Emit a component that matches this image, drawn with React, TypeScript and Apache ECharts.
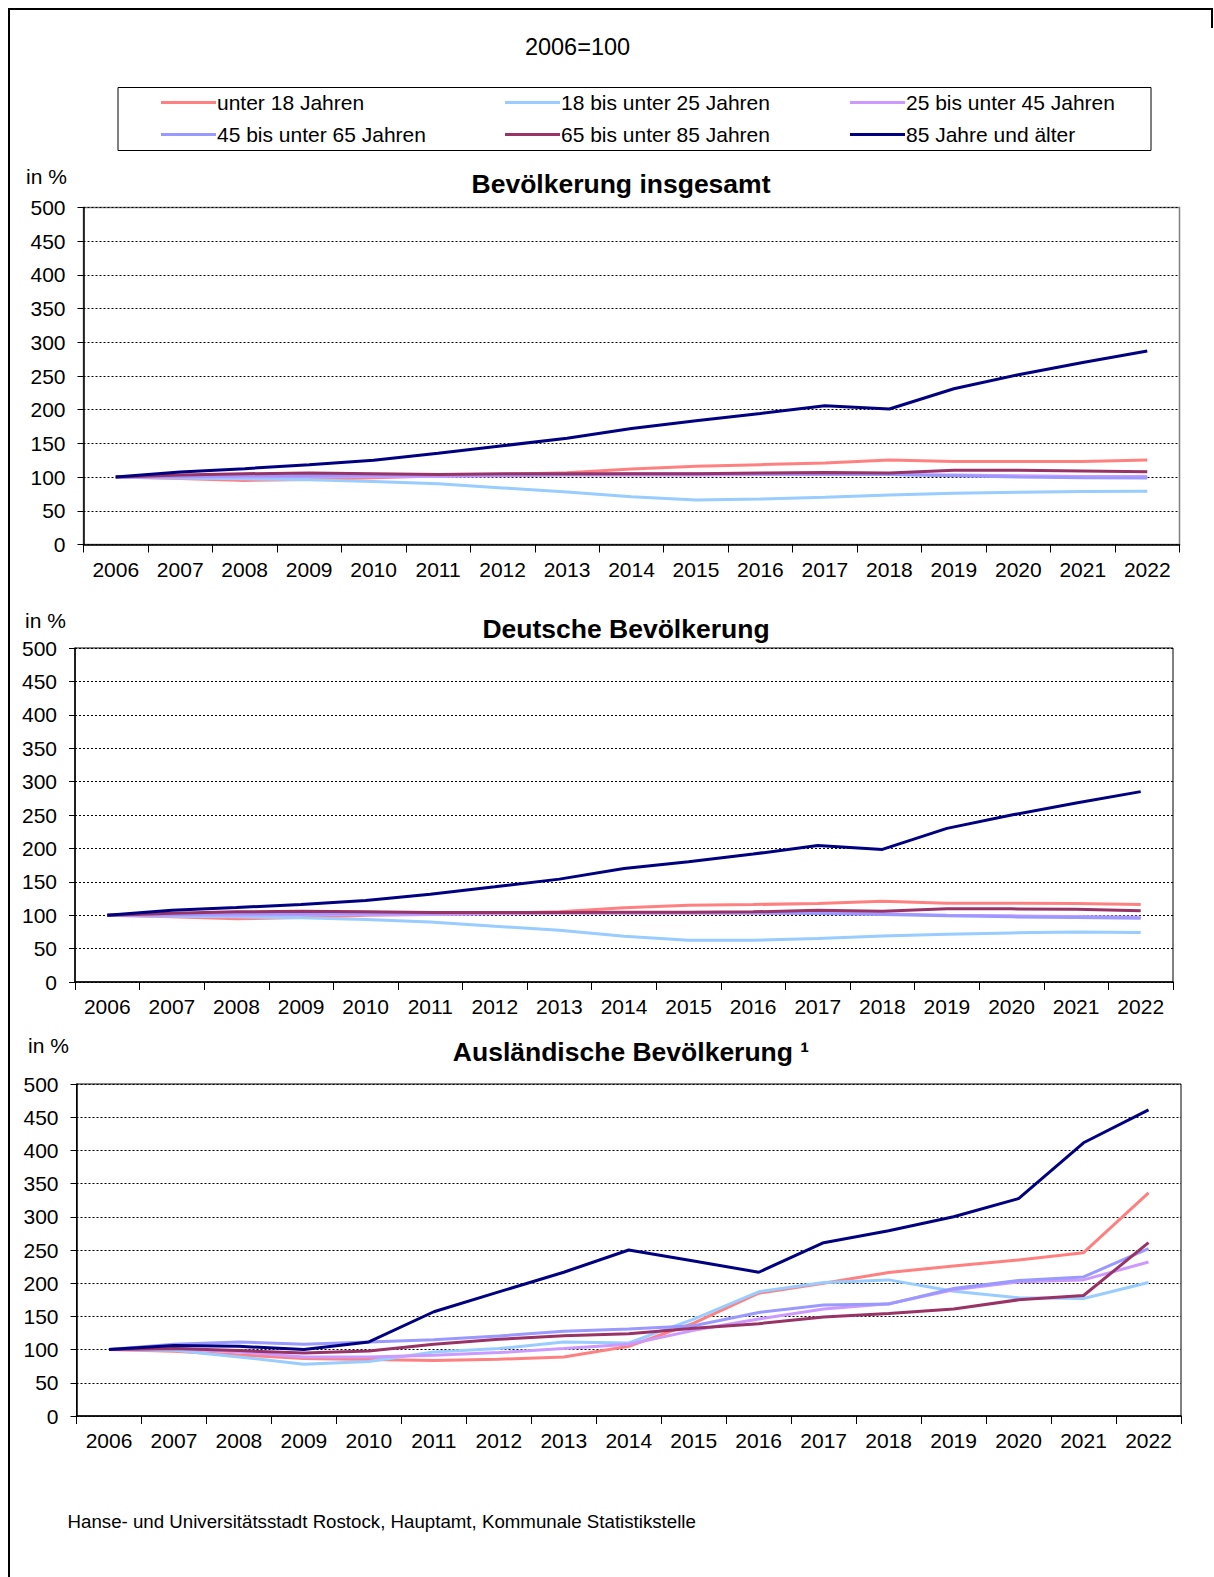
import React, { useEffect, useRef } from "react";
import * as echarts from "echarts";

const years = ["2006","2007","2008","2009","2010","2011","2012","2013","2014","2015","2016","2017","2018","2019","2020","2021","2022"];
const seriesNames = ["unter 18 Jahren","18 bis unter 25 Jahren","25 bis unter 45 Jahren","45 bis unter 65 Jahren","65 bis unter 85 Jahren","85 Jahre und älter"];
const seriesColors = ["#FF8080","#99CCFF","#CC99FF","#9999FF","#993366","#000080"];

// Bevölkerung insgesamt
const totU18 = [100, 98, 95, 96.5, 99, 101.5, 104, 106.5, 112, 116, 118.5, 121, 125.5, 123, 123, 123, 125.5];
const tot18_25 = [100, 98.5, 97.5, 96, 93.5, 90, 84, 78, 71, 66, 67.5, 70, 73.5, 76, 77.5, 78.5, 79];
const tot25_45 = [100, 100, 100, 101, 101, 101, 102, 103, 103, 103, 104, 104, 104, 103, 102, 101, 101];
const tot45_65 = [100, 101, 102, 102, 103, 103, 104, 104, 105, 105, 105, 105, 104, 102, 100, 99, 98.5];
const tot65_85 = [100, 103, 105, 106, 105, 104, 105, 105, 105, 105, 106, 107, 106, 110, 110, 109, 108];
const tot85 = [100, 107.5, 112.5, 118.5, 125, 135.5, 146.5, 157.5, 172, 183.5, 194.5, 206, 201, 231, 252, 270, 287];

// Deutsche Bevölkerung
const deU18 = [100, 97.5, 94.5, 96.5, 100, 101, 103, 105, 111, 115, 116, 117.5, 121, 118, 118, 117.5, 116];
const de18_25 = [100, 98.5, 97.5, 96, 93.5, 90, 83.5, 77.5, 68.5, 62.5, 62.5, 65, 69, 71.5, 73.5, 75, 74];
const de25_45 = [100, 100, 100, 101, 101, 101, 102, 103, 103, 103, 103, 103, 102, 100, 99, 98, 97];
const de45_65 = [100, 101, 102, 102, 103, 103, 104, 104, 104, 104, 103.5, 102.5, 101, 99, 97.5, 96.5, 95.5];
const de65_85 = [100, 103, 105, 106, 105, 104, 104, 104, 104.5, 104.5, 105, 107.5, 106, 109.5, 109.5, 109, 106.5];
const de85 = [100, 107.5, 111.5, 116, 122, 131.5, 142.5, 154, 170, 180, 191.5, 204.5, 198.5, 230, 250, 268, 285];

// Ausländische Bevölkerung
const ausU18 = [100, 97.5, 92, 86.5, 85, 83.5, 85.5, 89, 105, 140, 185, 200, 216, 226, 235, 246, 336];
const aus18_25 = [100, 99, 89, 78, 82, 96.5, 101.5, 111.5, 110, 146, 187, 201, 205, 188, 178, 177, 201];
const aus25_45 = [100, 101.5, 96.5, 89, 89, 91.5, 95.5, 101.5, 108, 129, 146, 161, 169, 190, 202, 205, 232];
const aus45_65 = [100, 108, 111.5, 108, 111.5, 115, 120.5, 127.5, 131, 136, 156, 167, 168.5, 192, 204, 209.5, 252];
const aus65_85 = [100, 101.5, 98.5, 95, 98, 108, 115.5, 121, 124, 132, 139, 149, 154.5, 161, 175, 181.5, 261];
const aus85 = [100, 106, 105, 100, 111.5, 157, 187, 216.5, 250, 233.5, 216.5, 261, 279, 300, 327.5, 411.5, 461];

const chartTitles = ["Bevölkerung insgesamt", "Deutsche Bevölkerung", "Ausländische Bevölkerung ¹"];
const chartData = [
  [totU18, tot18_25, tot25_45, tot45_65, tot65_85, tot85],
  [deU18, de18_25, de25_45, de45_65, de65_85, de85],
  [ausU18, aus18_25, aus25_45, aus45_65, aus65_85, aus85],
];

const FONT = '"Liberation Sans", Arial, sans-serif';

export default function App() {
  const ref = useRef<HTMLDivElement>(null);
  useEffect(() => {
    if (!ref.current) return;
    const chart = echarts.init(ref.current, undefined, { renderer: "svg" });
    const grids = [
      { left: 83.5, top: 207.5, width: 1096, height: 337, show: true, borderColor: "#808080", borderWidth: 1.5 },
      { left: 75, top: 648, width: 1098, height: 334, show: true, borderColor: "#000", borderWidth: 1 },
      { left: 76.5, top: 1084, width: 1104.5, height: 332, show: true, borderColor: "#000", borderWidth: 1 },
    ];
    const titleY = [184, 629, 1052];
    const titleX = [621, 626, 631];
    const inPct = [[26, 176], [25, 620], [28, 1045]];

    const xAxis = grids.map((_, i) => ({
      type: "category",
      gridIndex: i,
      data: years,
      boundaryGap: true,
      axisLine: { show: true, lineStyle: { color: "#000", width: 1.5 } },
      axisTick: { show: true, length: 8, interval: 0, lineStyle: { color: "#000" } },
      axisLabel: { interval: 0, fontSize: 21, color: "#000", fontFamily: FONT, margin: 14 },
      splitLine: { show: false },
    }));
    const yAxis = grids.map((_, i) => ({
      type: "value",
      gridIndex: i,
      min: 0,
      max: 500,
      interval: 50,
      axisLine: { show: true, lineStyle: { color: "#000", width: 1.5 } },
      axisTick: { show: true, length: 6, lineStyle: { color: "#000" } },
      axisLabel: { fontSize: 21, color: "#000", fontFamily: FONT, margin: 18 },
      splitLine: { show: true, lineStyle: { color: "#000", type: [2, 2], width: 1 } },
    }));
    const series: any[] = [];
    chartData.forEach((set, gi) => {
      set.forEach((vals, si) => {
        series.push({
          type: "line",
          name: seriesNames[si],
          xAxisIndex: gi,
          yAxisIndex: gi,
          data: vals,
          symbol: "none",
          showSymbol: false,
          lineStyle: { width: 3, color: seriesColors[si] },
          itemStyle: { color: seriesColors[si] },
          emphasis: { disabled: true },
        });
      });
    });
    const legendCols = [161, 505, 850];
    const legend = legendCols.map((x, c) => ({
      orient: "vertical",
      left: x,
      top: 92,
      padding: 0,
      itemGap: 11,
      itemWidth: 55,
      itemHeight: 3,
      icon: "rect",
      data: [seriesNames[c], seriesNames[c + 3]],
      textStyle: { fontSize: 21, color: "#000", fontFamily: FONT, lineHeight: 21, padding: [0, 0, 0, -4] },
    }));

    const graphic: any[] = [
      { type: "line", shape: { x1: 9, y1: 8, x2: 9, y2: 1577 }, style: { stroke: "#000", lineWidth: 2 } },
      { type: "line", shape: { x1: 8, y1: 9, x2: 1213, y2: 9 }, style: { stroke: "#000", lineWidth: 2 } },
      { type: "line", shape: { x1: 1212, y1: 8, x2: 1212, y2: 28 }, style: { stroke: "#000", lineWidth: 2 } },
      { type: "text", x: 577.5, y: 46.5, style: { text: "2006=100", font: `23.5px ${FONT}`, fill: "#000", textAlign: "center", textVerticalAlign: "middle", verticalAlign: "middle" } },
      { type: "rect", shape: { x: 118, y: 87.5, width: 1033, height: 63 }, style: { fill: "none", stroke: "#000", lineWidth: 1 } },
      { type: "text", x: 67.5, y: 1521, style: { text: "Hanse- und Universitätsstadt Rostock, Hauptamt, Kommunale Statistikstelle", font: `18.7px ${FONT}`, fill: "#000", textAlign: "left", textVerticalAlign: "middle", verticalAlign: "middle" } },
    ];
    chartTitles.forEach((t, i) => {
      graphic.push({ type: "text", x: titleX[i], y: titleY[i], style: { text: t, font: `bold 26.5px ${FONT}`, fill: "#000", textAlign: "center", textVerticalAlign: "middle", verticalAlign: "middle" } });
      graphic.push({ type: "text", x: inPct[i][0], y: inPct[i][1], style: { text: "in %", font: `21px ${FONT}`, fill: "#000", textAlign: "left", textVerticalAlign: "middle", verticalAlign: "middle" } });
    });

    chart.setOption({
      animation: false,
      backgroundColor: "#fff",
      grid: grids,
      xAxis,
      yAxis,
      legend,
      series,
      graphic,
    });
    return () => chart.dispose();
  }, []);
  return <div ref={ref} style={{ position: "absolute", left: 0, top: 0, width: 1214, height: 1577 }} />;
}
